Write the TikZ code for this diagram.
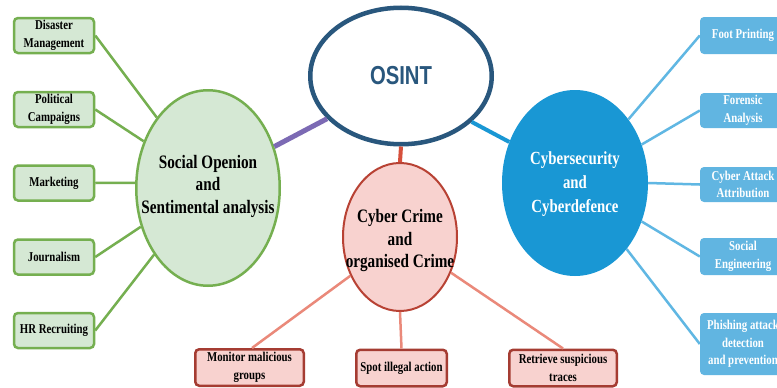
\documentclass[tikz,border=0pt]{standalone}
\usepackage{fontspec}
\setmainfont{Liberation Serif}[FakeStretch=0.8]
\newfontfamily\osintfont{Liberation Sans}[FakeStretch=0.78]
\usetikzlibrary{shapes.geometric}

\definecolor{osintblue}{RGB}{41,87,125}
\definecolor{gfill}{RGB}{213,232,212}
\definecolor{gline}{RGB}{117,175,80}
\definecolor{rfill}{RGB}{248,210,207}
\definecolor{rline}{RGB}{184,66,52}
\definecolor{rboxline}{RGB}{165,60,50}
\definecolor{rlink}{RGB}{234,137,122}
\definecolor{rmain}{RGB}{214,80,60}
\definecolor{cyfill}{RGB}{25,151,212}
\definecolor{cybox}{RGB}{97,181,225}
\definecolor{cylink}{RGB}{96,183,227}
\definecolor{purplelink}{RGB}{124,106,180}

\begin{document}
\begin{tikzpicture}[x=1pt,y=-1pt,
  boxtext/.style={font=\fontsize{13.5}{17.5}\selectfont\bfseries, align=center,
    inner sep=1pt, rounded corners=4pt},
  greenbox/.style={boxtext, draw=gline, line width=2.5pt, fill=gfill,
    minimum width=80pt, minimum height=35pt},
  redbox/.style={boxtext, draw=rboxline, line width=2.5pt, fill=rfill,
    minimum height=36.5pt},
  bluebox/.style={boxtext, fill=cybox, text=white, minimum width=86pt},
  bigtext/.style={font=\fontsize{19}{22.5}\selectfont\bfseries, align=center},
  hub/.style={ellipse, inner sep=0pt},
  glink/.style={draw=gline, line width=2.5pt},
  blink/.style={draw=cylink, line width=2.5pt},
  rlinkst/.style={draw=rlink, line width=2.5pt}
]
\clip (0,0) rectangle (777,388);
\fill[white] (0,0) rectangle (777,388);

% central hub
\node[hub, draw=osintblue, line width=4.5pt, fill=white,
  minimum width=181.5pt, minimum height=136.5pt,
  font=\osintfont\bfseries\fontsize{26}{28}\selectfont, text=osintblue]
  (osint) at (401,76) {OSINT};

% three themes
\node[hub, draw=gline, line width=2.5pt, fill=gfill,
  minimum width=143.5pt, minimum height=195.5pt] (social) at (208,188) {};
\node[bigtext] at (208,186) {Social Openion\\and\\Sentimental analysis};

\node[hub, draw=rline, line width=2pt, fill=rfill,
  minimum width=114pt, minimum height=148pt] (crime) at (400,237) {};
\node[bigtext] at (400,241) {Cyber Crime\\and\\organised Crime};

\node[hub, fill=cyfill, minimum width=146pt, minimum height=186pt] (cyber) at (575,183) {};
\node[bigtext, font=\fontsize{18.5}{24}\selectfont\bfseries, text=white] at (575,184)
  {Cybersecurity\\and\\Cyberdefence};

% hub links
\draw[draw=purplelink, line width=5pt] (osint.210) -- (social.32);
\draw[draw=rmain, line width=4pt] (osint.south) -- (crime.north);
\draw[draw=cyfill, line width=4pt] (osint.-33) -- (cyber.148);

% social applications
\node[greenbox] (disaster) at (54,35.5) {Disaster\\Management};
\node[greenbox] (political) at (54,109.5) {Political\\Campaigns};
\node[greenbox] (marketing) at (54,183) {Marketing};
\node[greenbox] (journalism) at (54,257) {Journalism};
\node[greenbox] (hr) at (54,330.5) {HR Recruiting};

\draw[glink] (disaster.east) -- (social.126);
\draw[glink] (political.east) -- (social.144);
\draw[glink] (marketing.east) -- (social.176);
\draw[glink] (journalism.east) -- (social.210);
\draw[glink] (hr.east) -- (social.231);

% security applications
\node[bluebox, minimum height=37pt] (foot) at (743,35.5) {Foot Printing};
\node[bluebox, minimum height=35pt] (forensic) at (743,110.5) {Forensic\\Analysis};
\node[bluebox, minimum height=35pt] (attack) at (743,184.5) {Cyber Attack\\Attribution};
\node[bluebox, minimum height=37pt] (soceng) at (743,256.5) {Social\\Engineering};
\node[bluebox, minimum height=62pt] (phishing) at (743,344)
  {Phishing attack\\detection\hspace*{20pt}\\and prevention};

\draw[blink] (foot.west) -- (cyber.50);
\draw[blink] (forensic.west) -- (cyber.30);
\draw[blink] (attack.west) -- (cyber.0);
\draw[blink] (soceng.west) -- (cyber.-30);
\draw[blink] (phishing.west) -- (cyber.-52);

% crime applications
\node[redbox, minimum width=108.5pt] (monitor) at (249.5,367.5) {Monitor malicious\\groups};
\node[redbox, minimum width=90.5pt] (spot) at (401.5,368) {Spot illegal action};
\node[redbox, minimum width=107.5pt] (retrieve) at (563,368) {Retrieve suspicious\\traces};

\draw[rlinkst] (crime.218) -- ([xshift=2.5pt]monitor.north);
\draw[rlinkst] (crime.south) -- (spot.north);
\draw[rlinkst] (crime.-35) -- (retrieve.north);
\end{tikzpicture}
\end{document}
